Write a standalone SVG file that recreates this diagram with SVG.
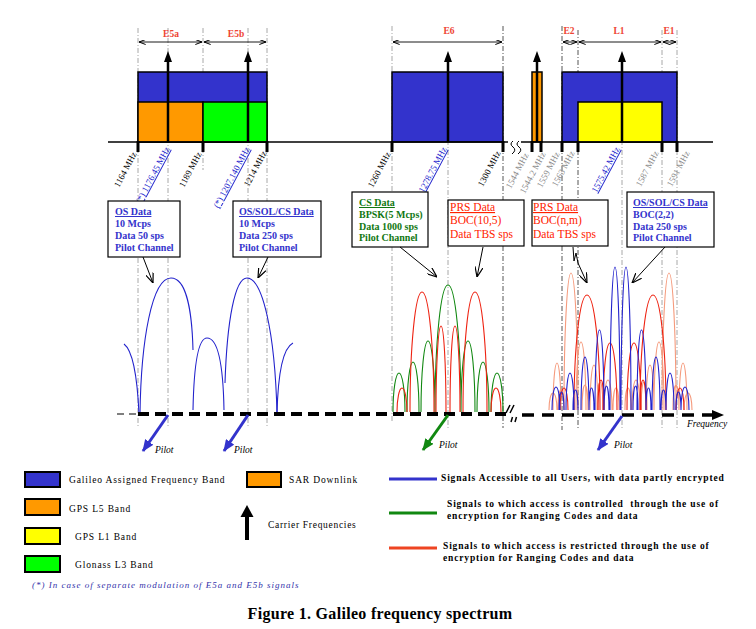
<svg xmlns="http://www.w3.org/2000/svg" width="756" height="629" viewBox="0 0 756 629">
<defs>
<style>
text{font-family:"Liberation Serif","Times New Roman",serif}
.vg{stroke:#a8a8a8;stroke-width:1;stroke-dasharray:5 2 1 2;fill:none}
.vd{stroke:#555;stroke-width:1;stroke-dasharray:5 2 1 2;fill:none}
.band{stroke:#000;stroke-width:1.5}
.tick{stroke:#000;stroke-width:3}
.car{stroke:#000;stroke-width:2.5}
.fq{font-size:9px;fill:#000}
.fqg{font-size:9px;fill:#8a8a8a}
.fqb{font-size:9px;fill:#2222cc;text-decoration:underline}
.bn{font-size:9.5px;font-weight:bold;fill:#ee4433;text-anchor:middle}
.dim{stroke:#000;stroke-width:0.9;fill:none;marker-start:url(#dh);marker-end:url(#dh)}
.box{fill:#fff;stroke:#000;stroke-width:1.2}
.tb{font-size:10px;font-weight:bold;fill:#3333cc}
.tg{font-size:10px;font-weight:bold;fill:#117711}
.tr{font-size:11.5px;fill:#ff2200}
.ptr{stroke:#000;stroke-width:1;fill:none;marker-end:url(#oa)}
.lb{fill:none;stroke:#2222cc;stroke-width:1.1}
.lg{fill:none;stroke:#118811;stroke-width:1.1}
.lr{fill:none;stroke:#ee2211;stroke-width:1.1}
.ls{fill:none;stroke:#f59a7c;stroke-width:1.1}
.pil{font-size:9.5px;font-style:italic;fill:#000}
.leg{font-size:9.5px;letter-spacing:0.85px;fill:#000}
.legb{font-size:9.5px;font-weight:bold;letter-spacing:0.85px;fill:#000}
.lsw{stroke:#000;stroke-width:2}
</style>
<marker id="dh" viewBox="0 0 8 6" refX="8" refY="3" markerWidth="7" markerHeight="5" markerUnits="userSpaceOnUse" orient="auto-start-reverse"><path d="M0,0 L8,3 L0,6" fill="none" stroke="#000" stroke-width="1.2"/></marker>
<marker id="oa" viewBox="0 0 10 8" refX="10" refY="4" markerWidth="10" markerHeight="8" markerUnits="userSpaceOnUse" orient="auto"><path d="M0,0 L10,4 L0,8" fill="none" stroke="#000" stroke-width="1.2"/></marker>
<marker id="pb" viewBox="0 0 12 10" refX="11" refY="5" markerWidth="12" markerHeight="10" markerUnits="userSpaceOnUse" orient="auto"><path d="M0,0 L12,5 L0,10 Z" fill="#3333cc"/></marker>
<marker id="pg" viewBox="0 0 12 10" refX="11" refY="5" markerWidth="12" markerHeight="10" markerUnits="userSpaceOnUse" orient="auto"><path d="M0,0 L12,5 L0,10 Z" fill="#118811"/></marker>
</defs>
<rect width="756" height="629" fill="#fff"/>

<!-- guide lines -->
<g id="guides">
<line class="vg" x1="138" y1="28" x2="138" y2="428"/>
<line class="vg" x1="168" y1="28" x2="168" y2="428"/>
<line class="vg" x1="203" y1="28" x2="203" y2="170"/>
<line class="vg" x1="248" y1="28" x2="248" y2="428"/>
<line class="vg" x1="267" y1="28" x2="267" y2="428"/>
<line class="vg" x1="392" y1="26" x2="392" y2="423"/>
<line class="vg" x1="448" y1="60" x2="448" y2="428"/>
<line class="vd" x1="503" y1="26" x2="503" y2="428"/>
<line class="vd" x1="562" y1="26" x2="562" y2="430"/>
<line class="vd" x1="578" y1="30" x2="578" y2="430"/>
<line class="vg" x1="622" y1="60" x2="622" y2="428"/>
<line class="vg" x1="662" y1="30" x2="662" y2="428"/>
<line class="vg" x1="677" y1="30" x2="677" y2="428"/>
</g>

<!-- band labels and dimension arrows -->
<g id="band-labels">
<text class="bn" x="171" y="37">E5a</text>
<text class="bn" x="236" y="37">E5b</text>
<text class="bn" x="449" y="34">E6</text>
<text class="bn" x="569" y="34">E2</text>
<text class="bn" x="619" y="34">L1</text>
<text class="bn" x="669" y="34">E1</text>
<line class="dim" x1="139" y1="42" x2="202" y2="42"/>
<line class="dim" x1="204" y1="42" x2="266" y2="42"/>
<line class="dim" x1="393" y1="42" x2="502" y2="42"/>
<line class="dim" x1="563" y1="42" x2="577" y2="42"/>
<line class="dim" x1="579" y1="42" x2="661" y2="42"/>
<line class="dim" x1="663" y1="42" x2="676" y2="42"/>
</g>

<!-- bands -->
<g id="band-e5">
<rect class="band" x="138" y="72" width="129" height="70" fill="#3333cc"/>
<rect class="band" x="138" y="102" width="65" height="40" fill="#ff9900"/>
<rect class="band" x="203" y="102" width="64" height="40" fill="#00ff00"/>
</g>
<g id="band-e6"><rect class="band" x="392" y="72" width="111" height="70" fill="#3333cc"/></g>
<g id="band-sar"><rect class="band" x="532" y="72" width="10" height="70" fill="#ff9900"/></g>
<g id="band-l1">
<rect class="band" x="562" y="72" width="115" height="70" fill="#3333cc"/>
<rect class="band" x="578" y="102" width="84" height="40" fill="#ffff00"/>
</g>

<!-- top axis -->
<g id="top-axis">
<line x1="108" y1="142" x2="508" y2="142" stroke="#000" stroke-width="1.3"/>
<line x1="521" y1="142" x2="713" y2="142" stroke="#000" stroke-width="1.3"/>
<path d="M513,141 q-4,3 0,6 q4,3 -1,7 M519,141 q-4,3 0,6 q4,3 -1,7" fill="none" stroke="#000" stroke-width="1"/>
<g class="tick">
<line x1="138" y1="141" x2="138" y2="152"/><line x1="203" y1="141" x2="203" y2="152"/><line x1="267" y1="141" x2="267" y2="152"/>
<line x1="392" y1="141" x2="392" y2="152"/><line x1="503" y1="141" x2="503" y2="152"/>
<line x1="532" y1="141" x2="532" y2="152"/><line x1="541" y1="141" x2="541" y2="152"/>
<line x1="562" y1="141" x2="562" y2="152"/><line x1="578" y1="141" x2="578" y2="152"/>
<line x1="662" y1="141" x2="662" y2="152"/><line x1="677" y1="141" x2="677" y2="152"/>
</g>
</g>

<!-- carrier arrows -->
<g id="carriers">
<line class="car" x1="168" y1="142" x2="168" y2="60"/><polygon points="164,62 168,51 172,62"/>
<line class="car" x1="248" y1="142" x2="248" y2="60"/><polygon points="244,62 248,51 252,62"/>
<line class="car" x1="448" y1="142" x2="448" y2="60"/><polygon points="444,62 448,51 452,62"/>
<line class="car" x1="537" y1="142" x2="537" y2="60"/><polygon points="533,62 537,51 541,62"/>
<line class="car" x1="622" y1="142" x2="622" y2="60"/><polygon points="618,62 622,51 626,62"/>
</g>

<!-- frequency labels -->
<g id="freq-labels" text-anchor="end">
<text class="fq" transform="translate(137,154) rotate(-62)">1164 MHz</text>
<text class="fqb" transform="translate(170,149) rotate(-62)">(*) 1176.45 MHz</text>
<text class="fq" transform="translate(202,154) rotate(-62)">1189 MHz</text>
<text class="fqb" transform="translate(250,149) rotate(-62)">(*) 1207.140 MHz</text>
<text class="fq" transform="translate(267,153) rotate(-62)">1214 MHz</text>
<text class="fq" transform="translate(391,154) rotate(-62)">1260 MHz</text>
<text class="fqb" transform="translate(447,149) rotate(-62)">1278.75 MHz</text>
<text class="fq" transform="translate(501,153) rotate(-62)">1300 MHz</text>
<text class="fqg" transform="translate(529,155) rotate(-62)">1544 MHz</text>
<text class="fqg" transform="translate(546,154) rotate(-62)">1544.2 MHz</text>
<text class="fqg" transform="translate(560,154) rotate(-62)">1559 MHz</text>
<text class="fqg" transform="translate(575,153) rotate(-62)">1563 MHz</text>
<text class="fqb" transform="translate(620,149) rotate(-62)">1575.42 MHz</text>
<text class="fqg" transform="translate(659,153) rotate(-62)">1587 MHz</text>
<text class="fqg" transform="translate(690,153) rotate(-62)">1591 MHz</text>
</g>

<!-- spectra -->
<g id="spectrum-e5">
<path class="lb" d="M124,344 C132,350 137,370 139,414"/>
<path class="lb" d="M140,414 C141,340 152,278 171,278 C186,278 192,310 193,350"/>
<path class="lb" d="M193,410 C194,360 199,338 207,338 C216,338 223,355 224,410"/>
<path class="lb" d="M225,383 C227,320 235,278 247,278 C262,278 275,330 277,414"/>
<path class="lb" d="M277,414 C278,370 283,348 293,343"/>
</g>
<g id="spectrum-e6">
<path class="lg" d="M393,412 A6,39 0 0 1 405,412 M407,412 A6,50 0 0 1 419,412 M421,412 A7,71 0 0 1 435,412 M435,412 A13,127 0 0 1 461,412 M461,412 A7,71 0 0 1 475,412 M477,412 A6,50 0 0 1 489,412 M491,412 A6,39 0 0 1 503,412"/>
<path class="lr" d="M397,412 A5,24 0 0 1 407,412 M410,412 A12,120 0 0 1 434,412 M436,412 A5,86 0 0 1 446,412 M450,412 A5,86 0 0 1 460,412 M463,412 A12,120 0 0 1 487,412 M491,412 A5,24 0 0 1 501,412"/>
</g>
<g id="spectrum-l1">
<path class="ls" d="M549,410 A4,17 0 0 1 557,410 M553,410 A4,47 0 0 1 561,410 M564,410 A7,137 0 0 1 578,410 M576,410 A5,68 0 0 1 586,410 M590,410 A4,45 0 0 1 598,410 M604,410 A4,30 0 0 1 612,410 M632,410 A4,30 0 0 1 640,410 M646,410 A4,45 0 0 1 654,410 M654,410 A5,68 0 0 1 664,410 M662,410 A7,137 0 0 1 676,410 M679,410 A4,47 0 0 1 687,410 M684,410 A4,17 0 0 1 692,410 M582,410 A3,25 0 0 1 588,410 M597,410 A3,28 0 0 1 603,410 M613,410 A3,22 0 0 1 619,410 M625,410 A3,22 0 0 1 631,410 M641,410 A3,28 0 0 1 647,410 M673,410 A3,25 0 0 1 679,410 M558,410 A3,20 0 0 1 564,410"/>
<path class="lr" d="M574,410 A13,115 0 0 1 600,410 M640,410 A13,115 0 0 1 666,410 M603,410 A7,67 0 0 1 617,410 M627,410 A7,67 0 0 1 641,410 M560,410 A4,22 0 0 1 568,410 M676,410 A4,22 0 0 1 684,410 M598,410 A3,30 0 0 1 604,410 M640,410 A3,30 0 0 1 646,410"/>
<path class="lb" d="M610,410 A5,143 0 0 1 620,410 M621,410 A5,143 0 0 1 631,410 M595,410 A4.5,80 0 0 1 604,410 M637,410 A4.5,80 0 0 1 646,410 M581,410 A4,53 0 0 1 589,410 M652,410 A4,53 0 0 1 660,410 M566,410 A4,37 0 0 1 574,410 M666,410 A4,37 0 0 1 674,410 M552,410 A4,23 0 0 1 560,410 M681,410 A4,23 0 0 1 689,410 M573,410 A2.5,20 0 0 1 578,410 M589,410 A2.5,22 0 0 1 594,410 M604,410 A2.5,24 0 0 1 609,410 M633,410 A2.5,24 0 0 1 638,410 M646,410 A2.5,22 0 0 1 651,410 M661,410 A2.5,20 0 0 1 666,410 M676,410 A2.5,18 0 0 1 681,410 M559,410 A2.5,18 0 0 1 564,410"/>
</g>

<!-- bottom axis -->
<g id="bottom-axis">
<line x1="117" y1="414" x2="138" y2="414" stroke="#000" stroke-width="1.2" stroke-dasharray="7 5"/>
<line x1="138" y1="414" x2="506" y2="414" stroke="#000" stroke-width="4" stroke-dasharray="11 6"/>
<line x1="522" y1="415" x2="713" y2="415" stroke="#000" stroke-width="3.5" stroke-dasharray="12 8"/>
<polygon points="712,410 724,415 712,420"/>
<path d="M506,413 L510,405 M510,413 L514,405 M511,422 L512.5,417 M515,422 L516.5,417" stroke="#000" stroke-width="1.5" fill="none"/>
<text x="687" y="427" class="pil">Frequency</text>
</g>

<!-- pilots -->
<g id="pilots">
<line x1="168" y1="415" x2="143" y2="451" stroke="#3333cc" stroke-width="3" marker-end="url(#pb)"/>
<text class="pil" x="155" y="453">Pilot</text>
<line x1="248" y1="415" x2="224" y2="451" stroke="#3333cc" stroke-width="3" marker-end="url(#pb)"/>
<text class="pil" x="234" y="453">Pilot</text>
<line x1="448" y1="415" x2="423" y2="450" stroke="#118811" stroke-width="3" marker-end="url(#pg)"/>
<text class="pil" x="439" y="448">Pilot</text>
<line x1="622" y1="416" x2="598" y2="450" stroke="#3333cc" stroke-width="3" marker-end="url(#pb)"/>
<text class="pil" x="614" y="448">Pilot</text>
</g>

<!-- info boxes -->
<g id="box-os-e5a">
<rect class="box" x="108" y="201" width="72" height="56"/>
<text class="tb" x="115" y="215" text-decoration="underline">OS Data</text>
<text class="tb" x="115" y="227">10 Mcps</text>
<text class="tb" x="115" y="239">Data 50 sps</text>
<text class="tb" x="115" y="251">Pilot Channel</text>
</g>
<g id="box-os-e5b">
<rect class="box" x="233" y="201" width="88" height="56"/>
<text class="tb" x="239" y="215" text-decoration="underline">OS/SOL/CS Data</text>
<text class="tb" x="239" y="227">10 Mcps</text>
<text class="tb" x="239" y="239">Data 250 sps</text>
<text class="tb" x="239" y="251">Pilot Channel</text>
</g>
<g id="box-cs">
<rect class="box" x="352" y="192" width="76" height="55"/>
<text class="tg" x="359" y="206" text-decoration="underline">CS Data</text>
<text class="tg" x="359" y="218">BPSK(5 Mcps)</text>
<text class="tg" x="359" y="229.5">Data 1000 sps</text>
<text class="tg" x="359" y="241">Pilot Channel</text>
</g>
<g id="box-prs-e6">
<rect class="box" x="448" y="200" width="76" height="46"/>
<text class="tr" x="450" y="211" text-decoration="underline">PRS Data</text>
<text class="tr" x="450" y="224">BOC(10,5)</text>
<text class="tr" x="450" y="238">Data TBS sps</text>
</g>
<g id="box-prs-l1">
<rect class="box" x="532" y="200" width="76" height="46"/>
<text class="tr" x="533" y="211" text-decoration="underline">PRS Data</text>
<text class="tr" x="533" y="224">BOC(n,m)</text>
<text class="tr" x="533" y="238">Data TBS sps</text>
</g>
<g id="box-os-l1">
<rect class="box" x="627" y="192" width="87" height="55"/>
<text class="tb" x="633" y="206" text-decoration="underline">OS/SOL/CS Data</text>
<text class="tb" x="633" y="218">BOC(2,2)</text>
<text class="tb" x="633" y="229.5">Data 250 sps</text>
<text class="tb" x="633" y="241">Pilot Channel</text>
</g>

<!-- connectors -->
<g id="connectors">
<path class="ptr" d="M143,257 L153,283"/>
<path class="ptr" d="M268,257 L258,278"/>
<path class="ptr" d="M400,247 L437,277"/>
<path class="ptr" d="M483,247 L477,277"/>
<path class="ptr" d="M573,247 L574,261 L576,253 L578,263 L587,283"/>
<path class="ptr" d="M665,247 L632,283"/>
</g>

<!-- legend -->
<g id="legend-galileo"><rect class="lsw" x="25" y="472" width="35" height="15" fill="#3333cc"/><text class="leg" x="69" y="483">Galileo Assigned Frequency Band</text></g>
<g id="legend-gpsl5"><rect class="lsw" x="25" y="499" width="35" height="16" fill="#ff9900"/><text class="leg" x="69" y="512">GPS L5 Band</text></g>
<g id="legend-gpsl1"><rect class="lsw" x="25" y="528" width="35" height="16" fill="#ffff00"/><text class="leg" x="75" y="540">GPS L1 Band</text></g>
<g id="legend-glonass"><rect class="lsw" x="25" y="556" width="35" height="16" fill="#00ff00"/><text class="leg" x="75" y="568">Glonass L3 Band</text></g>
<g id="legend-sar"><rect class="lsw" x="247" y="472" width="34" height="15" fill="#ff9900"/><text class="leg" x="289" y="483">SAR Downlink</text></g>
<g id="legend-carrier"><line x1="247" y1="540" x2="247" y2="514" stroke="#000" stroke-width="4"/><polygon points="240.5,517 247,505 253.5,517"/><text class="leg" x="268" y="528" style="letter-spacing:0.7px">Carrier Frequencies</text></g>
<text x="32" y="588" style="font-size:9px;font-style:italic;letter-spacing:1px;fill:#3333aa">(*) In case of separate modulation of E5a and E5b signals</text>
<g id="legend-blue"><line x1="389" y1="479" x2="437" y2="479" stroke="#3333cc" stroke-width="3"/><text class="legb" x="441" y="481">Signals Accessible to all Users, with data partly encrypted</text></g>
<g id="legend-green"><line x1="389" y1="513" x2="437" y2="513" stroke="#118811" stroke-width="3"/><text class="legb" x="447" y="507" xml:space="preserve">Signals to which access is controlled  through the use of</text><text class="legb" x="447" y="519">encryption for Ranging Codes and data</text></g>
<g id="legend-red"><line x1="389" y1="548" x2="437" y2="548" stroke="#ee4422" stroke-width="3"/><text class="legb" x="443" y="549">Signals to which access is restricted through the use of</text><text class="legb" x="443" y="561">encryption for Ranging Codes and data</text></g>

<text x="380" y="619" text-anchor="middle" style="font-size:16px;font-weight:bold;letter-spacing:0.3px">Figure 1. Galileo frequency spectrum</text>
</svg>
